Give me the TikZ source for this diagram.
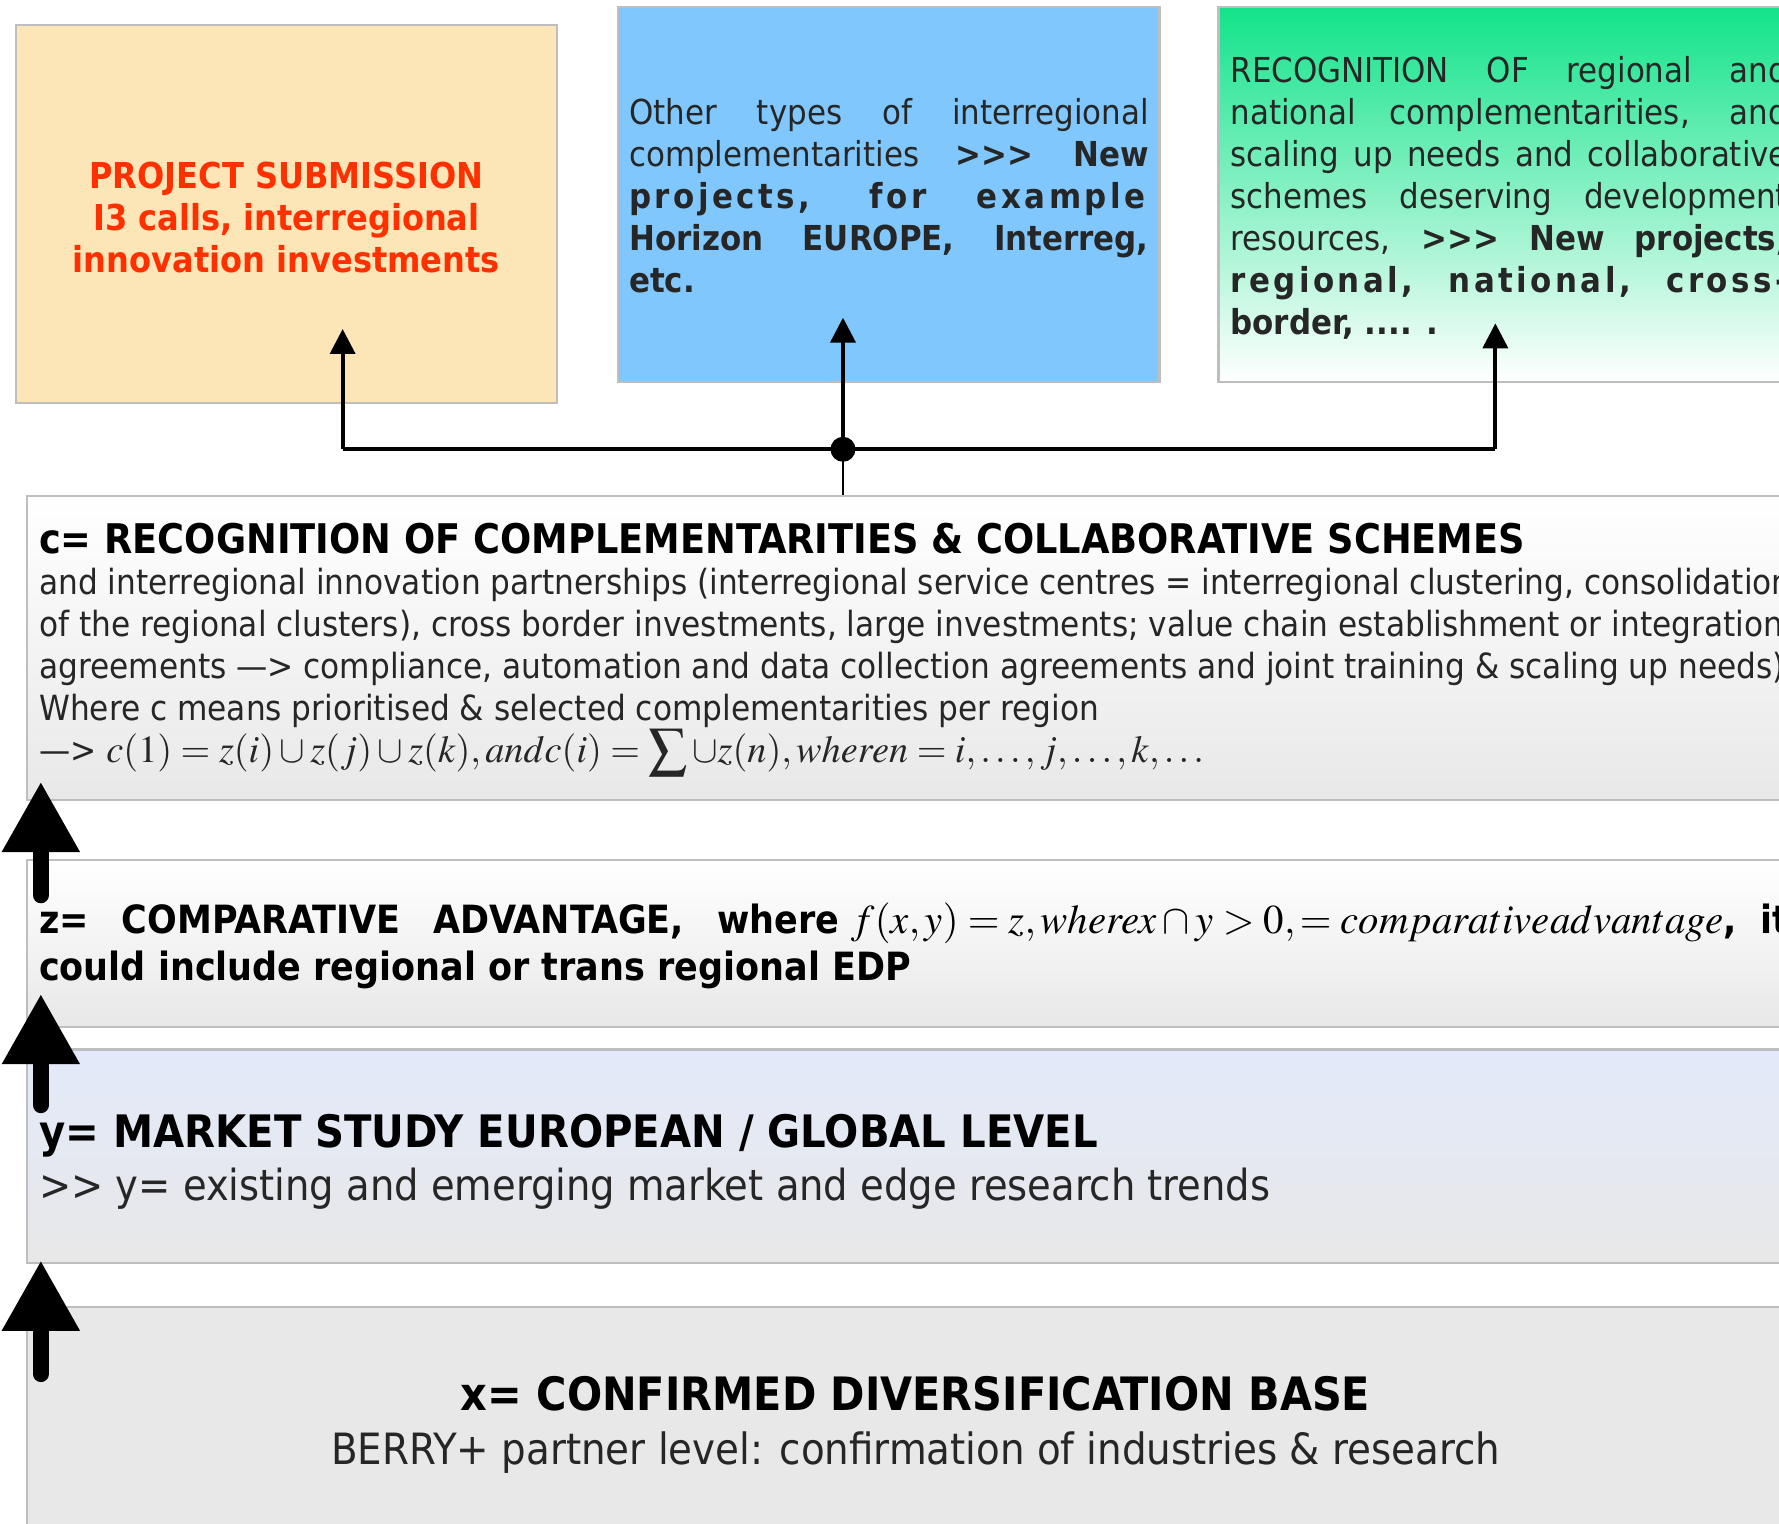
\documentclass[tikz,border=0pt]{standalone}
\usepackage{mathptmx}
\usepackage[no-math]{fontspec}
\setmainfont{DejaVu Sans Condensed}
\usetikzlibrary{arrows.meta}
\usetikzlibrary{calc}
\usetikzlibrary{positioning, fit}
\definecolor{subfill}{RGB}{252,229,183}
\definecolor{subred}{RGB}{255,48,0}
\definecolor{otherblue}{RGB}{128,199,253}
\definecolor{recgreen}{RGB}{18,227,138}
\definecolor{lavender}{RGB}{227,233,250}
\definecolor{lowgrey}{RGB}{232,232,232}
\definecolor{edge}{RGB}{190,190,190}
\newcommand{\spread}[1]{{\addfontfeature{LetterSpace=10}#1}}

\begin{document}
\begin{tikzpicture}[x=0.35pt, y=-0.35pt,
    box/.style={draw=edge, line width=0.7pt, inner sep=0pt},
    txt/.style={inner sep=0pt, text=black!85},
    up/.style={-{Triangle[width=7.7pt, length=7.7pt]}, line width=1.2pt},
    bigup/.style={-{Triangle[width=22.7pt, length=21.7pt]}, line width=5pt, line cap=round}]
  \useasboundingbox (0,0) rectangle (1568,1343);
  \clip (0,0) rectangle (1568,1343);

  \node[box, fill=subfill, fit={(14,22) (491,355)}] (sub) {};
  \node[box, fill=otherblue, fit={(545,6) (1022,337)}] (other) {};
  \node[box, top color=recgreen, bottom color=white, fit={(1074,6) (1600,337)}] (rec) {};
  \node[txt, align=center, text=subred, font=\bfseries\fontsize{11}{12.95}\selectfont] (subtext)
        at ($(sub.center)+(0,3)$) {PROJECT SUBMISSION\\ I3 calls, interregional\\ innovation investments};
  \node[txt, text width=160.3pt, align=justify, font=\fontsize{10.6}{12.95}\selectfont] (othertext)
        at ($(other.center)+(0,1)$)
        {Other types of interregional\linebreak complementarities \textbf{>{}>{}> New}\linebreak
         \textbf{\spread{projects, for example}}\linebreak \textbf{Horizon EUROPE, Interreg,}\linebreak \textbf{etc.}};
  \node[txt, anchor=west, text width=172pt, align=justify, font=\fontsize{10.6}{12.95}\selectfont] (rectext)
        at ($(rec.west)+(11,3)$)
        {RECOGNITION OF regional and\linebreak national complementarities, and\linebreak
         scaling up needs and collaborative\linebreak schemes deserving development\linebreak
         resources, \textbf{>{}>{}> New projects,}\linebreak \textbf{\spread{regional, national, cross-}}\linebreak
         \textbf{border, .... .}};

  \node[box, top color=white, bottom color=lowgrey, fit={(24,437) (1600,705)}] (comp) {};
  \node[box, top color=white, bottom color=lowgrey, fit={(24,758) (1600,905)}] (zadv) {};
  \node[box, top color=lavender, bottom color=lowgrey, fit={(24,925) (1600,1113)}] (mark) {};
  \node[box, fill=lowgrey, fit={(24,1152) (1600,1380)}] (base) {};

  \node[txt, anchor=base west, text=black, font=\bfseries\fontsize{12.6}{14}\selectfont] (comphead) at (34,488)
        {c= RECOGNITION OF COMPLEMENTARITIES \& COLLABORATIVE SCHEMES};
  \node[txt, anchor=base west, align=left, font=\fontsize{10.7}{12.95}\selectfont] (compbody) at (34,672)
        {and interregional innovation partnerships (interregional service centres = interregional clustering, consolidation\\
         of the regional clusters), cross border investments, large investments; value chain establishment or integration\\
         agreements —> compliance, automation and data collection agreements and joint training \& scaling up needs)\\
         Where c means prioritised \& selected complementarities per region\\
         —> {\fontsize{11.8}{13}\selectfont$c(1)=z(i)\cup z(j)\cup z(k), andc(i)=\displaystyle\sum\cup z(n), wheren=i,\ldots,j,\ldots,k,\ldots$}};
  \node[txt, anchor=base west, align=left, text=black, font=\bfseries\fontsize{12}{14.35}\selectfont] (zadvtext) at (34,864)
        {z=\hspace{0.85em}COMPARATIVE\hspace{0.85em}ADVANTAGE,\hspace{0.85em}where
         {\mdseries\fontsize{12.6}{14}\selectfont$f(x,y)=z, wherex\cap y>0,=comparativeadvantage$}, \ it\\
         could include regional or trans regional EDP};
  \node[txt, anchor=base west, align=left, font=\fontsize{13.2}{16.45}\selectfont] (marktext) at (34,1058)
        {{\bfseries\color{black}\fontsize{13.8}{16.45}\selectfont y= MARKET STUDY EUROPEAN / GLOBAL LEVEL}\\
         >{}> y= existing and emerging market and edge research trends};
  \node[txt, anchor=base, align=center, font=\fontsize{13.3}{16.8}\selectfont] (basetext) at (807,1291)
        {{\bfseries\color{black}\fontsize{14.2}{16.8}\selectfont x= CONFIRMED DIVERSIFICATION BASE}\\
         BERRY+ partner level: confirmation of industries \& research};

  \coordinate (fork) at (743,396);
  \coordinate (subfoot) at (302,396);
  \coordinate (recfoot) at (1318,396);
  \coordinate (subtip) at (302,290);
  \coordinate (othertip) at (743,280);
  \coordinate (rectip) at (1318,285);
  \draw[line width=0.8pt] (fork |- comp.north) -- (fork);
  \draw[line width=1.2pt] (subfoot) -- (recfoot);
  \fill (fork) circle (11);
  \draw[up] (subfoot) -- (subtip);
  \draw[up] (fork) -- (othertip);
  \draw[up] (recfoot) -- (rectip);

  \foreach \a/\b/\lo/\hi in {zadv/comp/32/17, mark/zadv/50/30, base/mark/60/3}
    \draw[bigup] ($(\a.north west)+(13,\lo)$) -- ($(\b.south west)+(13,-\hi)$);
\end{tikzpicture}
\end{document}
